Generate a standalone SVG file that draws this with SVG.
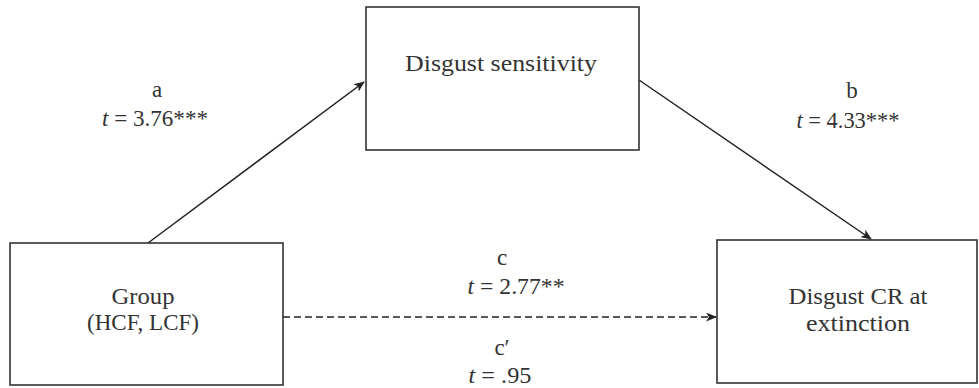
<svg xmlns="http://www.w3.org/2000/svg" width="979" height="388" viewBox="0 0 979 388">
<style>
.box{fill:#fff;stroke:#333;stroke-width:1.6}
.t{font-family:"Liberation Serif","Times New Roman",serif;font-size:23px;fill:#333;text-anchor:middle}
.c{stroke:#222;stroke-width:1.5;fill:none}
</style>
<defs>
<marker id="ah" markerWidth="11" markerHeight="9" refX="10" refY="4.5" orient="auto" markerUnits="userSpaceOnUse">
<path d="M0,0 L11,4.5 L0,9 L3,4.5 Z" fill="#222"/>
</marker>
</defs>
<rect width="979" height="388" fill="#fff"/>
<g id="connectors">
<line class="c" x1="148" y1="243" x2="364" y2="82" marker-end="url(#ah)"/>
<line class="c" x1="639" y1="80" x2="871" y2="239" marker-end="url(#ah)"/>
<line class="c" x1="283" y1="317" x2="716" y2="317" stroke-dasharray="7,4" marker-end="url(#ah)"/>
</g>
<g id="node-ds">
<rect class="box" x="366" y="7" width="273" height="143"/>
<text class="t" x="501" y="71" textLength="192" lengthAdjust="spacingAndGlyphs">Disgust sensitivity</text>
</g>
<g id="node-group">
<rect class="box" x="10" y="243" width="273" height="142"/>
<text class="t" x="143" y="304" textLength="63" lengthAdjust="spacingAndGlyphs">Group</text>
<text class="t" x="143" y="330" textLength="112" lengthAdjust="spacingAndGlyphs">(HCF, LCF)</text>
</g>
<g id="node-cr">
<rect class="box" x="717" y="240" width="260" height="143"/>
<text class="t" x="858" y="304" textLength="139" lengthAdjust="spacingAndGlyphs">Disgust CR at</text>
<text class="t" x="858" y="331" textLength="104" lengthAdjust="spacingAndGlyphs">extinction</text>
</g>
<g id="labels">
<text class="t" x="157" y="97">a</text>
<text class="t" x="155" y="126" textLength="106" lengthAdjust="spacingAndGlyphs"><tspan font-style="italic">t</tspan> = 3.76***</text>
<text class="t" x="852" y="98">b</text>
<text class="t" x="848" y="128" textLength="103" lengthAdjust="spacingAndGlyphs"><tspan font-style="italic">t</tspan> = 4.33***</text>
<text class="t" x="502" y="265">c</text>
<text class="t" x="516" y="294" textLength="97" lengthAdjust="spacingAndGlyphs"><tspan font-style="italic">t</tspan> = 2.77**</text>
<text class="t" x="502" y="355">c′</text>
<text class="t" x="500" y="383" textLength="63" lengthAdjust="spacingAndGlyphs"><tspan font-style="italic">t</tspan> = .95</text>
</g>
</svg>
